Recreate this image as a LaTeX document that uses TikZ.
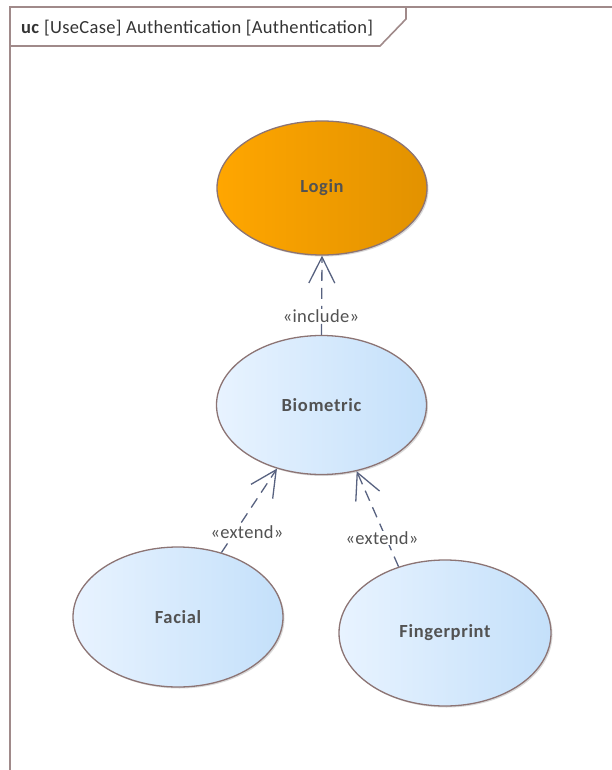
\documentclass[tikz,border=0pt]{standalone}
\usepackage{fontspec}
\setmainfont{Carlito}
\newfontfamily\boldsp[LetterSpace=3.5]{Carlito}
\newfontfamily\regsp[LetterSpace=1.8]{Carlito}
\usetikzlibrary{shapes.geometric,arrows.meta,shadows}
\definecolor{frm}{RGB}{160,138,138}
\definecolor{ucb}{RGB}{140,116,116}
\definecolor{lnk}{RGB}{88,98,128}
\definecolor{txt}{RGB}{82,82,82}
\definecolor{blueL}{RGB}{232,243,255}
\definecolor{blueR}{RGB}{196,224,250}
\definecolor{orL}{RGB}{255,166,0}
\definecolor{orR}{RGB}{226,146,0}
\tikzset{
  uc/.style={ellipse, draw=ucb, line width=1.3pt, inner sep=0pt,
    font=\fontsize{18.5}{22}\boldsp\bfseries, text=txt,
    left color=blueL, right color=blueR,
    drop shadow={shadow xshift=1.5pt, shadow yshift=-1.5pt, opacity=0.25, fill=black!60}},
  conn/.style={draw=lnk, line width=1.3pt, dash pattern=on 11pt off 7pt,
    -{Straight Barb[length=26pt,width=26pt,line width=1.3pt]}},
  stereo/.style={fill=white, inner sep=1pt,
    font=\fontsize{18.5}{22}\regsp, text=txt},
  frame/.style={draw=frm, line width=1.6pt}
}
\begin{document}
\begin{tikzpicture}[x=1pt,y=-1pt]
\useasboundingbox (0,0) rectangle (612,770);
% frame
\draw[frame] (10,780) -- (10,7) -- (620,7);
\draw[frame] (10,46) -- (380,46) -- (406,19) -- (406,7);
\node[anchor=west, inner sep=0pt, font=\fontsize{18.5}{22}\regsp, text=black!80] (hdr) at (21,28) {\textbf{uc} [UseCase] Authentication [Authentication]};
% use cases
\node[uc, minimum width=210pt, minimum height=134pt, left color=orL, right color=orR] (login) at (322,188) {Login};
\node[uc, minimum width=210pt, minimum height=139pt] (bio) at (321.5,405) {Biometric};
\node[uc, minimum width=210pt, minimum height=140pt] (facial) at (178,617) {Facial};
\node[uc, minimum width=212pt, minimum height=146pt] (finger) at (445,633) {Fingerprint};
% connectors
\draw[conn] (bio.north) -- (login.south);
\draw[conn] (facial.56) -- (bio.235);
\draw[conn] (finger.125) -- (bio.298);
% stereotypes
\node[stereo] (inc) at (321,316) {«include»};
\node[stereo] (ext1) at (247,532) {«extend»};
\node[stereo] (ext2) at (382,538) {«extend»};
\end{tikzpicture}
\end{document}
